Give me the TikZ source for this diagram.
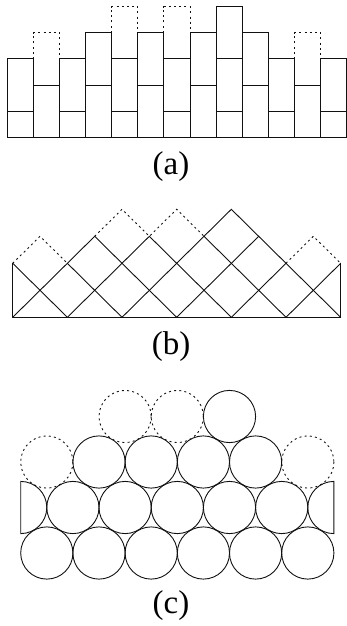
\documentclass[tikz,border=0pt]{standalone}
\usepackage{fontspec}
\setmainfont{Liberation Serif}
\usepackage{tikz}
\usetikzlibrary{calc}
\definecolor{InkBlack}{HTML}{111111}
\tikzset{
  brick/.style={draw=InkBlack,line width=0.9pt},
  ghost/.style={draw=InkBlack,line width=0.9pt,dash pattern=on 2pt off 3.2pt},
  lattice/.style={draw=InkBlack,line width=0.9pt,line cap=round},
  ball/.style={draw=InkBlack,line width=0.9pt},
  caption/.style={font=\fontsize{33}{35}\selectfont,inner sep=0pt},
}

\begin{document}
\begin{tikzpicture}[x=1pt,y=-1pt]

  \useasboundingbox (0,0) rectangle (347,626);

  % ---- (a) stacked bricks ----
  \def\bw{26.1}\def\bh{26.15}\def\bx{7.3}\def\by{137.3}
  % dashed bricks first
  \foreach \k/\lo/\hi in {1/2/4, 11/2/4, 4/3/5, 6/3/5}
    \draw[ghost] (\bx+\k*\bw,\by-\lo*\bh) rectangle (\bx+\k*\bw+\bw,\by-\hi*\bh);
  % solid bricks
  \foreach \k in {0,2,...,12}{
    \draw[brick] (\bx+\k*\bw,\by) rectangle (\bx+\k*\bw+\bw,\by-\bh);
    \draw[brick] (\bx+\k*\bw,\by-\bh) rectangle (\bx+\k*\bw+\bw,\by-3*\bh);
  }
  \foreach \k in {1,3,...,11}
    \draw[brick] (\bx+\k*\bw,\by) rectangle (\bx+\k*\bw+\bw,\by-2*\bh);
  \foreach \k in {3,5,7,9}
    \draw[brick] (\bx+\k*\bw,\by-2*\bh) rectangle (\bx+\k*\bw+\bw,\by-4*\bh);
  \draw[brick] (\bx+8*\bw,\by-3*\bh) rectangle (\bx+9*\bw,\by-5*\bh);

  \node[caption] (capA) at (171,167) {(a)};

  % ---- (b) diamond lattice ----
  \def\dw{27.33}\def\dh{27}\def\dx{12.7}\def\dy{317.3}
  \draw[lattice] (\dx,\dy) -- (\dx+12*\dw,\dy);
  \draw[lattice] (\dx,\dy) -- (\dx,\dy-2*\dh);
  \draw[lattice] (\dx+12*\dw,\dy) -- (\dx+12*\dw,\dy-2*\dh);
  % up-right and up-left strands
  \foreach \a/\b/\c/\d in {0/0/3/3, 2/0/5/3, 4/0/8/4, 6/0/9/3, 8/0/10/2, 10/0/12/2,
                           2/0/0/2, 4/0/2/2, 6/0/3/3, 8/0/5/3, 10/0/7/3, 12/0/8/4}
    \draw[lattice] (\dx+\a*\dw,\dy-\b*\dh) -- (\dx+\c*\dw,\dy-\d*\dh);
  % missing cells
  \draw[ghost] (\dx,\dy-2*\dh) -- (\dx+\dw,\dy-3*\dh) -- (\dx+2*\dw,\dy-2*\dh);
  \draw[ghost] (\dx+3*\dw,\dy-3*\dh) -- (\dx+4*\dw,\dy-4*\dh) -- (\dx+5*\dw,\dy-3*\dh)
               -- (\dx+6*\dw,\dy-4*\dh) -- (\dx+7*\dw,\dy-3*\dh);
  \draw[ghost] (\dx+10*\dw,\dy-2*\dh) -- (\dx+11*\dw,\dy-3*\dh) -- (\dx+12*\dw,\dy-2*\dh);

  \node[caption] (capB) at (171,347) {(b)};

  % ---- (c) packed spheres ----
  \def\r{26.1}\def\cx{46.8}\def\cs{52.2}
  \def\ya{553}\def\yb{507.5}\def\yc{462}\def\yd{416.5}
  % vacancies
  \foreach \xx/\yy in {\cx/\yc, \cx+5*\cs/\yc, \cx+1.5*\cs/\yd, \cx+2.5*\cs/\yd}
    \draw[ghost] (\xx,\yy) circle[radius=\r];
  % bottom row
  \foreach \k in {0,...,5}
    \draw[ball] (\cx+\k*\cs,\ya) circle[radius=\r];
  % second row with half balls at the walls
  \foreach \k in {0,...,4}
    \draw[ball] (\cx+\k*\cs+0.5*\cs,\yb) circle[radius=\r];
  \coordinate (wallL) at (\cx-0.5*\cs,\yb);
  \coordinate (wallR) at (\cx+5.5*\cs,\yb);
  \draw[ball] (wallL) ++(-90:\r) arc[start angle=-90,end angle=90,radius=\r] -- cycle;
  \draw[ball] (wallR) ++(90:\r) arc[start angle=90,end angle=270,radius=\r] -- cycle;
  % third and top rows
  \foreach \k in {1,...,4}
    \draw[ball] (\cx+\k*\cs,\yc) circle[radius=\r];
  \draw[ball] (\cx+3.5*\cs,\yd) circle[radius=\r];

  \node[caption] (capC) at (171,606) {(c)};

\end{tikzpicture}
\end{document}
